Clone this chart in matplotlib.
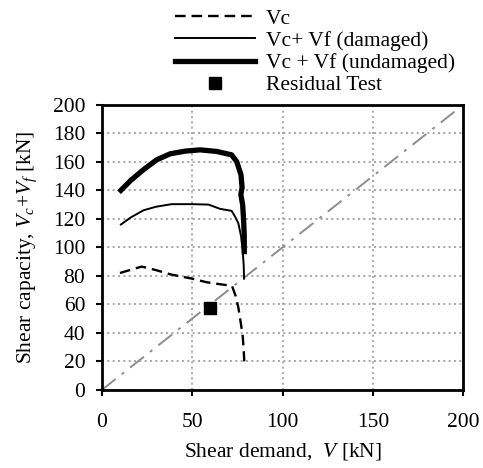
import matplotlib
matplotlib.use('Agg')
import matplotlib.pyplot as plt
import numpy as np

plt.rcParams['font.family'] = ['Liberation Serif', 'DejaVu Serif']
plt.rcParams['mathtext.fontset'] = 'custom'
plt.rcParams['mathtext.rm'] = 'Liberation Serif'
plt.rcParams['mathtext.it'] = 'Liberation Serif:italic'

# Vc (concrete contribution)
vc_x = [10, 22, 30, 38, 50, 58, 66, 72, 74, 75.5, 77, 78, 78.5, 78.8]
vc_y = [82, 86.5, 84, 81, 78, 75.5, 74, 73, 66, 58, 46, 37, 28, 20]

# Vc + Vf damaged
dam_x = [10.5, 16, 23, 30, 38.6, 50, 59, 65.4, 71.8, 73.5, 75.5, 77, 78, 78.5, 78.7]
dam_y = [116, 121, 126, 128.5, 130.3, 130.3, 130, 127, 125.6, 122, 117, 108, 97, 87, 78]

# Vc + Vf undamaged
und_x = [10.5, 16, 22.9, 30.3, 37.7, 46, 54.3, 63.5, 71.8, 74.6, 77, 77.6, 76.9, 77.9, 78.4, 78.8, 78.8]
und_y = [140, 147, 154.4, 161.4, 165.6, 167.5, 168.4, 167.3, 164.9, 160.2, 150.9, 142, 137, 130, 120, 108, 97]

# residual test
res_x = [59.6]
res_y = [57.5]

diag = [0, 200]

fig = plt.figure(figsize=(4.83, 4.68), dpi=100)
ax = fig.add_axes([0.211, 0.167, 0.748, 0.609])

ax.plot(diag, diag, color='#8c8c8c', linestyle=(0, (9, 4, 1.5, 4)), linewidth=1.4, zorder=2)
l1, = ax.plot(vc_x, vc_y, color='black', linestyle=(0, (4.5, 2.5)), linewidth=1.7, zorder=3)
l2, = ax.plot(dam_x, dam_y, color='black', linewidth=1.4, zorder=3)
l3, = ax.plot(und_x, und_y, color='black', linewidth=3.8, zorder=3, solid_joinstyle='round')
l4, = ax.plot(res_x, res_y, linestyle='none', marker='s', markersize=8.5, color='black', zorder=4)

ax.set_xlim(0, 200)
ax.set_ylim(0, 200)
ax.set_xticks(np.arange(0, 201, 50))
ax.set_yticks(np.arange(0, 201, 20))
ax.grid(True, color='#999999', linestyle=(0, (1.2, 2)), linewidth=1.2)
ax.set_axisbelow(True)
for s in ax.spines.values():
    s.set_linewidth(2)
ax.tick_params(direction='out', length=4, width=1.5, labelsize=15.5)
ax.tick_params(axis='x', pad=13)
ax.tick_params(axis='y', pad=8)

ax.set_xlabel('Shear demand,  $\\mathit{V}$ [kN]', fontsize=15.5, labelpad=6)
ax.set_ylabel('Shear capacity, $\\mathit{V_c}$+$\\mathit{V_f}$ [kN]', fontsize=15.5, labelpad=10)

fig.legend([l1, l2, l3, l4],
           ['Vc', 'Vc+ Vf (damaged)', 'Vc + Vf (undamaged)', 'Residual Test'],
           loc='upper left', bbox_to_anchor=(0.345, 1.0), frameon=False,
           fontsize=15.5, handlelength=3.7, handletextpad=0.5, labelspacing=0.1,
           borderaxespad=0)

fig.savefig('out.png', dpi=100)
